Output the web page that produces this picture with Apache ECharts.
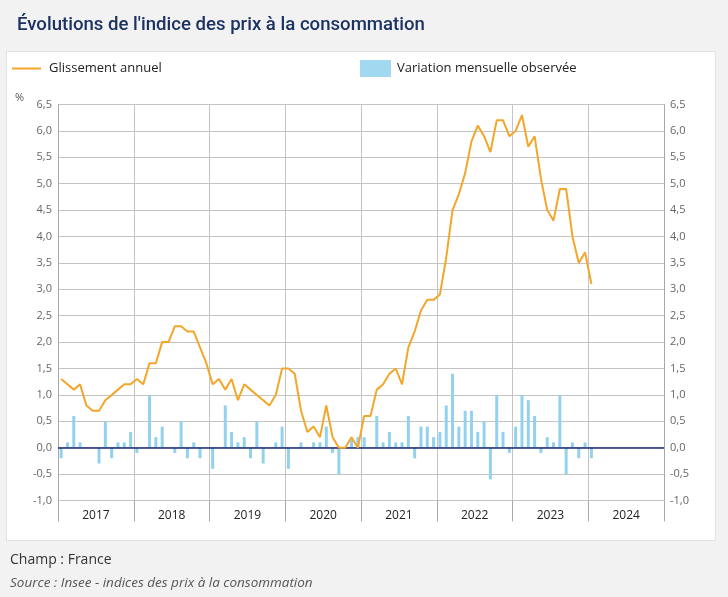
<!DOCTYPE html>
<html>
<head>
<meta charset="utf-8">
<script src="https://cdn.jsdelivr.net/npm/echarts@6/dist/echarts.min.js"></script>
<style>
html,body{margin:0;padding:0;background:#f2f2f2;}
#chart{width:728px;height:597px;}
</style>
</head>
<body>
<div id="chart"></div>
<script>
// Years shown on the x axis
var years = ['2017','2018','2019','2020','2021','2022','2023','2024'];
// Monthly categories (Jan 2017 - Dec 2024)
var months = [];
years.forEach(function(y){ for (var m = 1; m <= 12; m++) months.push(y + '-' + (m < 10 ? '0' + m : m)); });

// Glissement annuel (%), Jan 2017 - Jan 2024
var glissement = [
  1.3,1.2,1.1,1.2,0.8,0.7,0.7,0.9,1.0,1.1,1.2,1.2,
  1.3,1.2,1.6,1.6,2.0,2.0,2.3,2.3,2.2,2.2,1.9,1.6,
  1.2,1.3,1.1,1.3,0.9,1.2,1.1,1.0,0.9,0.8,1.0,1.5,
  1.5,1.4,0.7,0.3,0.4,0.2,0.8,0.2,0.0,0.0,0.2,0.0,
  0.6,0.6,1.1,1.2,1.4,1.5,1.2,1.9,2.2,2.6,2.8,2.8,
  2.9,3.6,4.5,4.8,5.2,5.8,6.1,5.9,5.6,6.2,6.2,5.9,
  6.0,6.3,5.7,5.9,5.1,4.5,4.3,4.9,4.9,4.0,3.5,3.7,
  3.1
];
// Variation mensuelle observée (%), Jan 2017 - Jan 2024
var mensuelle = [
  -0.2,0.1,0.6,0.1,0.0,0.0,-0.3,0.5,-0.2,0.1,0.1,0.3,
  -0.1,0.0,1.0,0.2,0.4,0.0,-0.1,0.5,-0.2,0.1,-0.2,0.0,
  -0.4,0.0,0.8,0.3,0.1,0.2,-0.2,0.5,-0.3,0.0,0.1,0.4,
  -0.4,0.0,0.1,0.0,0.1,0.1,0.4,-0.1,-0.5,0.0,0.2,0.2,
  0.2,0.0,0.6,0.1,0.3,0.1,0.1,0.6,-0.2,0.4,0.4,0.2,
  0.3,0.8,1.4,0.4,0.7,0.7,0.3,0.5,-0.6,1.0,0.3,-0.1,
  0.4,1.0,0.9,0.6,-0.1,0.2,0.1,1.0,-0.5,0.1,-0.2,0.1,
  -0.2
];

var FONT = '"Open Sans", "Noto Sans", sans-serif';
var chart = echarts.init(document.getElementById('chart'), null, {renderer: 'canvas'});
function fmt(v){ return v.toFixed(1).replace('.', ','); }

var option = {
  backgroundColor: '#f2f2f2',
  animation: false,
  textStyle: {fontFamily: FONT},
  graphic: [
    {type: 'rect', z: -10, silent: true,
     shape: {x: 6.5, y: 51.5, width: 709, height: 489},
     style: {fill: '#ffffff', stroke: '#e2e2e2', lineWidth: 1}},
    {type: 'text', left: 15, top: 92, silent: true,
     style: {text: '%', fill: '#555', fontSize: 11, fontFamily: FONT}}
  ],
  title: [
    {text: "Évolutions de l'indice des prix à la consommation", left: 12, top: 11,
     textStyle: {color: '#1b3263', fontSize: 18.6, fontWeight: 500, fontFamily: 'Roboto, "Open Sans", sans-serif'}},
    {text: 'Champ : France', left: 5, top: 548,
     textStyle: {color: '#333', fontSize: 14, fontWeight: 'normal', fontFamily: FONT}},
    {text: 'Source : Insee - indices des prix à la consommation', left: 5, top: 571,
     textStyle: {color: '#555', fontSize: 13.5, fontStyle: 'italic', fontWeight: 'normal', fontFamily: FONT}}
  ],
  legend: [
    {data: [{name: 'Glissement annuel', icon: 'rect'}], left: 7, top: 57, itemWidth: 29, itemHeight: 2,
     textStyle: {color: '#222', fontSize: 13, fontFamily: FONT, padding: [0, 0, 0, 3]}},
    {data: [{name: 'Variation mensuelle observée', icon: 'rect'}], left: 355, top: 55, itemWidth: 31, itemHeight: 17,
     itemStyle: {color: '#a3d9f0'},
     textStyle: {color: '#222', fontSize: 13, fontFamily: FONT, padding: [0, 0, 0, 1]}}
  ],
  grid: {left: 58, right: 64, top: 104.5, bottom: 96.5, containLabel: false},
  xAxis: [
    {type: 'category', data: months, boundaryGap: true, position: 'bottom',
     axisLine: {show: false}, axisTick: {show: false}, axisLabel: {show: false}, splitLine: {show: false}},
    {type: 'category', data: years, boundaryGap: true, position: 'bottom',
     axisLine: {show: true, onZero: false, lineStyle: {color: '#c4c4c4'}},
     axisTick: {show: true, length: 21, lineStyle: {color: '#aaaaaa'}},
     axisLabel: {color: '#222', fontSize: 12, margin: 9, fontFamily: FONT},
     splitLine: {show: true, lineStyle: {color: '#c4c4c4', width: 1}}}
  ],
  yAxis: [
    {type: 'value', min: -1, max: 6.5, interval: 0.5, position: 'left',
     axisLine: {show: true, lineStyle: {color: '#a8a8a8'}}, axisTick: {show: false},
     axisLabel: {color: '#666', fontSize: 11, margin: 6, formatter: fmt, fontFamily: FONT},
     splitLine: {show: true, lineStyle: {color: '#c4c4c4', width: 1}}},
    {type: 'value', min: -1, max: 6.5, interval: 0.5, position: 'right',
     axisLine: {show: true, lineStyle: {color: '#a8a8a8'}}, axisTick: {show: false},
     axisLabel: {color: '#666', fontSize: 11, margin: 6, formatter: fmt, fontFamily: FONT},
     splitLine: {show: false}}
  ],
  series: [
    {name: 'Variation mensuelle observée', type: 'bar', xAxisIndex: 0, yAxisIndex: 0,
     data: mensuelle, barWidth: 3, itemStyle: {color: '#93d2ee'},
     markLine: {silent: true, symbol: 'none', label: {show: false},
       lineStyle: {color: '#1b2a78', width: 1.5, type: 'solid'},
       data: [{yAxis: 0}]}},
    {name: 'Glissement annuel', type: 'line', xAxisIndex: 0, yAxisIndex: 0,
     data: glissement, symbol: 'none', z: 5,
     lineStyle: {color: '#f4a62a', width: 2}, itemStyle: {color: '#f4a62a'}}
  ]
};
chart.setOption(option);
</script>
</body>
</html>
